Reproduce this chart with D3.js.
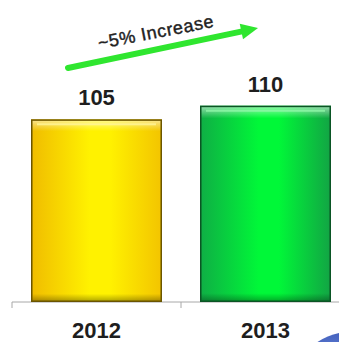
<!DOCTYPE html>
<html>
<head>
<meta charset="utf-8">
<script src="https://cdn.jsdelivr.net/npm/d3@7/dist/d3.min.js"></script>
<style>
  html, body { margin: 0; padding: 0; background: #fff; }
  svg { display: block; }
</style>
</head>
<body>
<svg id="chart" width="339" height="342"></svg>
<script>
// Yearly totals
const years = ["2012", "2013"];
const values = [105, 110];
const annotation = "~5% Increase";

// Bar colour ramps: edge, centre, border
const barPalettes = [
  { edge: "#f0bc00", mid: "#fff200", right: "#f3c400", border: "#6a5400", top: "#fff59a" },
  { edge: "#0fae45", mid: "#00f838", right: "#12a444", border: "#0b5424", top: "#8ff7a8" }
];

const W = 339, H = 342;
const svg = d3.select("#chart");
const defs = svg.append("defs");

const x = d3.scaleBand()
  .domain(years)
  .range([12, 350])
  .paddingInner(0.225)
  .paddingOuter(0.1125);

// value axis is truncated: the baseline sits well above zero
const y = d3.scaleLinear()
  .domain([38, 110])
  .range([302, 105.7]);

// gradients for the bevelled bars
barPalettes.forEach((p, i) => {
  const g = defs.append("linearGradient")
    .attr("id", "side" + i).attr("x1", "0").attr("x2", "1").attr("y1", "0").attr("y2", "0");
  g.append("stop").attr("offset", "0").attr("stop-color", p.edge);
  g.append("stop").attr("offset", "0.45").attr("stop-color", p.mid);
  g.append("stop").attr("offset", "0.6").attr("stop-color", p.mid);
  g.append("stop").attr("offset", "1").attr("stop-color", p.right);
});
const shade = defs.append("linearGradient")
  .attr("id", "vshade").attr("x1", "0").attr("x2", "0").attr("y1", "0").attr("y2", "1");
shade.append("stop").attr("offset", "0").attr("stop-color", "#fff").attr("stop-opacity", 0.55);
shade.append("stop").attr("offset", "0.06").attr("stop-color", "#fff").attr("stop-opacity", 0.0);
shade.append("stop").attr("offset", "0.96").attr("stop-color", "#000").attr("stop-opacity", 0.0);
shade.append("stop").attr("offset", "1").attr("stop-color", "#000").attr("stop-opacity", 0.3);

// soft blue disc peeking in at the lower right corner
const disc = defs.append("radialGradient").attr("id", "disc")
  .attr("cx", "0.35").attr("cy", "0.3").attr("r", "0.8");
disc.append("stop").attr("offset", "0").attr("stop-color", "#6d8fe0");
disc.append("stop").attr("offset", "0.6").attr("stop-color", "#2d46a8");
disc.append("stop").attr("offset", "1").attr("stop-color", "#1a2a70");
svg.append("circle").attr("cx", 350).attr("cy", 390).attr("r", 58)
  .attr("fill", "url(#disc)");

// axis line with ticks at band edges
const axisY = y.range()[0];
const axis = svg.append("g").attr("transform", `translate(0,${axisY})`);
axis.append("line").attr("x1", 12).attr("x2", W).attr("y1", 0).attr("y2", 0)
  .attr("stroke", "#a8a8a8").attr("stroke-width", 1);
const tickXs = [12, ...years.map(d => x(d) + x.bandwidth() + x.step() * x.paddingInner() / 2)];
axis.selectAll("line.tick").data(tickXs).join("line")
  .attr("class", "tick")
  .attr("x1", d => d).attr("x2", d => d).attr("y1", 0).attr("y2", 6)
  .attr("stroke", "#a8a8a8").attr("stroke-width", 1);

// bars
const bars = svg.append("g").selectAll("g.bar").data(values).join("g").attr("class", "bar");
bars.append("rect")
  .attr("x", (d, i) => x(years[i]))
  .attr("y", d => y(d))
  .attr("width", x.bandwidth())
  .attr("height", d => axisY - y(d))
  .attr("fill", (d, i) => `url(#side${i})`);
bars.append("rect")
  .attr("x", (d, i) => x(years[i]) + 1)
  .attr("y", d => y(d) + 1)
  .attr("width", x.bandwidth() - 2)
  .attr("height", d => axisY - y(d) - 2)
  .attr("fill", "url(#vshade)");
// thin highlight under the top edge
bars.append("line")
  .attr("x1", (d, i) => x(years[i]) + 6)
  .attr("x2", (d, i) => x(years[i]) + x.bandwidth() - 6)
  .attr("y1", d => y(d) + 5).attr("y2", d => y(d) + 5)
  .attr("stroke", (d, i) => barPalettes[i].top).attr("stroke-width", 2).attr("opacity", 0.8);
bars.append("rect")
  .attr("x", (d, i) => x(years[i]) + 0.75)
  .attr("y", d => y(d) + 0.75)
  .attr("width", x.bandwidth() - 1.5)
  .attr("height", d => axisY - y(d) - 1.5)
  .attr("fill", "none")
  .attr("stroke", (d, i) => barPalettes[i].border)
  .attr("stroke-width", 1.5);

// value labels
svg.append("g").selectAll("text").data(values).join("text")
  .attr("x", (d, i) => x(years[i]) + x.bandwidth() / 2)
  .attr("y", d => y(d) - 14)
  .attr("text-anchor", "middle")
  .attr("font-family", "Liberation Sans, Arial, sans-serif")
  .attr("font-weight", "bold")
  .attr("font-size", 22)
  .attr("fill", "#1e1e1e")
  .text(d => d);

// category labels
svg.append("g").selectAll("text").data(years).join("text")
  .attr("x", d => x(d) + x.bandwidth() / 2)
  .attr("y", 338)
  .attr("text-anchor", "middle")
  .attr("font-family", "Liberation Sans, Arial, sans-serif")
  .attr("font-weight", "bold")
  .attr("font-size", 22)
  .attr("fill", "#1e1e1e")
  .text(d => d);

// growth arrow
const arrowStart = [68, 68], arrowTip = [258, 28];
const ang = Math.atan2(arrowTip[1] - arrowStart[1], arrowTip[0] - arrowStart[0]);
const headLen = 17, headHalf = 8;
const base = [arrowTip[0] - headLen * Math.cos(ang), arrowTip[1] - headLen * Math.sin(ang)];
svg.append("line")
  .attr("x1", arrowStart[0]).attr("y1", arrowStart[1])
  .attr("x2", base[0] + 2 * Math.cos(ang)).attr("y2", base[1] + 2 * Math.sin(ang))
  .attr("stroke", "#2fe62f").attr("stroke-width", 6).attr("stroke-linecap", "round");
svg.append("path")
  .attr("d", d3.line()([
    arrowTip,
    [base[0] + headHalf * Math.sin(ang), base[1] - headHalf * Math.cos(ang)],
    [base[0] - headHalf * Math.sin(ang), base[1] + headHalf * Math.cos(ang)]
  ]) + "Z")
  .attr("fill", "#2fe62f");

svg.append("text")
  .attr("transform", "translate(157,38) rotate(-11)")
  .attr("text-anchor", "middle")
  .attr("font-family", "Liberation Sans, Arial, sans-serif")
  .attr("font-size", 18)
  .attr("letter-spacing", 0.6)
  .attr("fill", "#222")
  .attr("stroke", "#222")
  .attr("stroke-width", 0.4)
  .text(annotation);
</script>
</body>
</html>
